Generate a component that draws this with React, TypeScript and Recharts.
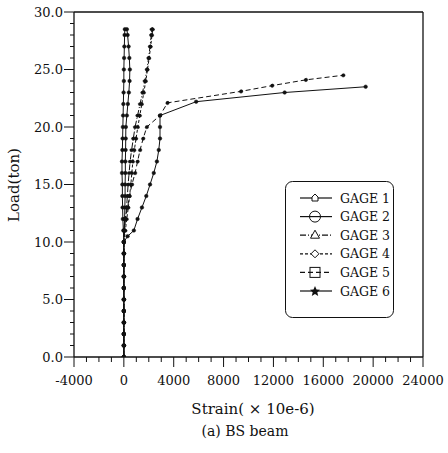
import React from "react";
import {
  Legend,
  Line,
  LineChart,
  ReferenceLine,
  XAxis,
  YAxis,
} from "recharts";

const FONT = "'DejaVu Serif', 'Liberation Serif', serif";
const INK = "#111";

// shared elastic part of every gage: load steps of 1 ton up to 10 ton
const BASE_LOAD = [0, 1, 2, 3, 4, 5, 6, 7, 8, 9, 10];
const BASE_STRAIN = [0, 0, 0, 0, 0, 0, 0, 0, 0, 0, 0];

const GAGE1_LOAD = [11, 12, 13, 14, 15, 16, 17, 18, 19, 20, 21, 22, 23, 24, 25, 26, 27, 28, 28.5];
const GAGE1_STRAIN = [-40, -80, -100, -120, -120, -150, -150, -120, -100, -80, -60, -40, -20, 0, 0, 20, 40, 60, 80];

const GAGE2_LOAD = [11, 12, 13, 14, 15, 16, 17, 18, 19, 20, 21, 22, 23, 24, 25, 26, 27, 28, 28.5];
const GAGE2_STRAIN = [30, 60, 80, 100, 100, 120, 120, 140, 150, 160, 240, 320, 400, 460, 480, 440, 380, 300, 240];

const GAGE3_LOAD = [11, 12, 13, 14, 15, 16, 17, 18, 19, 20, 21, 22, 23, 24, 25, 26, 27, 28, 28.5];
const GAGE3_STRAIN = [60, 130, 220, 280, 340, 420, 500, 620, 760, 900, 1100, 1300, 1500, 1680, 1850, 1980, 2100, 2200, 2240];

const GAGE4_LOAD = [11, 12, 13, 14, 15, 16, 17, 18, 19, 20, 21, 22, 23, 24, 25, 26, 27, 28, 28.5];
const GAGE4_STRAIN = [120, 230, 360, 460, 560, 640, 720, 840, 980, 1120, 1280, 1440, 1600, 1760, 1900, 2030, 2150, 2260, 2320];

const GAGE5_LOAD = [11, 12, 13, 14, 15, 16, 17, 18, 19, 20, 21, 22.1, 23.1, 23.6, 24.1, 24.5];
const GAGE5_STRAIN = [0, 100, 300, 450, 650, 900, 1100, 1300, 1550, 1840, 2900, 3500, 9400, 11900, 14600, 17600];

const GAGE6_LOAD = [10.5, 11, 12, 13, 14, 15, 16, 17, 18, 19, 20, 21, 22.2, 23, 23.5];
const GAGE6_STRAIN = [300, 800, 1100, 1450, 1800, 2100, 2400, 2650, 2800, 2900, 2900, 2900, 5800, 12900, 19400];

const X_MAJOR = [-4000, 0, 4000, 8000, 12000, 16000, 20000, 24000];
const X_TICKS = Array.from({ length: 29 }, (_, i) => -4000 + i * 1000);
const Y_MAJOR = [0, 5, 10, 15, 20, 25, 30];
const Y_TICKS = Array.from({ length: 31 }, (_, i) => i);

type Pt = { strain: number; load: number };

function toPoints(loads: number[], strains: number[]): Pt[] {
  const all = [...BASE_LOAD, ...loads];
  const xs = [...BASE_STRAIN, ...strains];
  return all.map((load, i) => ({ strain: xs[i], load }));
}

type Marker = "pent" | "circle" | "triangle" | "diamond" | "square" | "star";

const SERIES: { name: string; data: Pt[]; dash?: string; marker: Marker }[] = [
  { name: "GAGE 1", data: toPoints(GAGE1_LOAD, GAGE1_STRAIN), marker: "pent" },
  { name: "GAGE 2", data: toPoints(GAGE2_LOAD, GAGE2_STRAIN), marker: "circle" },
  { name: "GAGE 3", data: toPoints(GAGE3_LOAD, GAGE3_STRAIN), dash: "6 2 1 2", marker: "triangle" },
  { name: "GAGE 4", data: toPoints(GAGE4_LOAD, GAGE4_STRAIN), dash: "3 2", marker: "diamond" },
  { name: "GAGE 5", data: toPoints(GAGE5_LOAD, GAGE5_STRAIN), dash: "5 3", marker: "square" },
  { name: "GAGE 6", data: toPoints(GAGE6_LOAD, GAGE6_STRAIN), marker: "star" },
];

function XTick(props: any) {
  const { x, y, payload } = props;
  const v = payload.value as number;
  const major = X_MAJOR.includes(v);
  return (
    <g>
      <line x1={x} y1={y} x2={x} y2={y + (major ? 10 : 5)} stroke={INK} strokeWidth={1} />
      {major && (
        <text x={x} y={y + 28} textAnchor="middle" fontFamily={FONT} fontSize={13} fill={INK}>
          {v}
        </text>
      )}
    </g>
  );
}

function YTick(props: any) {
  const { x, y, payload } = props;
  const v = payload.value as number;
  const major = Y_MAJOR.includes(v);
  return (
    <g>
      <line x1={x} y1={y} x2={x - (major ? 10 : 4)} y2={y} stroke={INK} strokeWidth={1} />
      {major && (
        <text x={x - 11} y={y + 4.5} textAnchor="end" fontFamily={FONT} fontSize={13} fill={INK}>
          {v.toFixed(1)}
        </text>
      )}
    </g>
  );
}

function MarkerShape({ kind, cx, cy }: { kind: Marker; cx: number; cy: number }) {
  const s = { fill: "#fff", stroke: INK, strokeWidth: 1 };
  switch (kind) {
    case "pent":
      return <path d={`M${cx - 3},${cy + 3} L${cx - 3},${cy - 1} L${cx},${cy - 4} L${cx + 3},${cy - 1} L${cx + 3},${cy + 3} Z`} {...s} />;
    case "circle":
      return <circle cx={cx} cy={cy} r={5.5} {...s} fill="none" />;
    case "triangle":
      return <path d={`M${cx},${cy - 5} L${cx + 4.5},${cy + 3} L${cx - 4.5},${cy + 3} Z`} {...s} />;
    case "diamond":
      return <path d={`M${cx},${cy - 4} L${cx + 4},${cy} L${cx},${cy + 4} L${cx - 4},${cy} Z`} {...s} />;
    case "square":
      return <rect x={cx - 5} y={cy - 5} width={10} height={10} {...s} fill="none" />;
    default:
      return (
        <path
          d={`M${cx},${cy - 5} L${cx + 1.5},${cy - 1.5} L${cx + 5},${cy - 1.2} L${cx + 2.3},${cy + 1.2} L${cx + 3.2},${cy + 5} L${cx},${cy + 3} L${cx - 3.2},${cy + 5} L${cx - 2.3},${cy + 1.2} L${cx - 5},${cy - 1.2} L${cx - 1.5},${cy - 1.5} Z`}
          fill={INK}
        />
      );
  }
}

function GageLegend() {
  return (
    <svg width={110} height={138} style={{ display: "block" }}>
      <rect x={0.5} y={0.5} width={108} height={136} rx={7} ry={7} fill="#fff" stroke={INK} strokeWidth={1} />
      {SERIES.map((s, i) => {
        const cy = 17 + i * 18.6;
        return (
          <g key={s.name}>
            <line x1={15} y1={cy} x2={47} y2={cy} stroke={INK} strokeWidth={1.2} strokeDasharray={s.dash} />
            <MarkerShape kind={s.marker} cx={30} cy={cy} />
            <text x={55} y={cy + 4.5} fontFamily={FONT} fontSize={12.5} fill={INK}>
              {s.name}
            </text>
          </g>
        );
      })}
    </svg>
  );
}

export default function App() {
  return (
    <div style={{ position: "absolute", left: 0, top: 0, width: 448, height: 453, background: "#fff" }}>
      <LineChart width={448} height={453} margin={{ top: 12, right: 25, left: 0, bottom: 0 }}>
        <XAxis
          type="number"
          dataKey="strain"
          domain={[-4000, 24000]}
          ticks={X_TICKS}
          interval={0}
          allowDataOverflow
          height={96}
          tickSize={0}
          tickMargin={0}
          tickLine={false}
          axisLine={{ stroke: INK, strokeWidth: 1.3 }}
          tick={<XTick />}
          label={{
            content: () => (
              <text x={253} y={414} textAnchor="middle" fontFamily={FONT} fontSize={15} fill={INK}>
                Strain( × 10e-6)
              </text>
            ),
          }}
        />
        <YAxis
          type="number"
          dataKey="load"
          domain={[0, 30]}
          ticks={Y_TICKS}
          interval={0}
          allowDataOverflow
          width={74}
          tickSize={0}
          tickMargin={0}
          tickLine={false}
          axisLine={{ stroke: INK, strokeWidth: 1.3 }}
          tick={<YTick />}
          label={{
            content: () => (
              <text
                x={19}
                y={185}
                transform="rotate(-90 19 185)"
                textAnchor="middle"
                fontFamily={FONT}
                fontSize={15}
                fill={INK}
              >
                Load(ton)
              </text>
            ),
          }}
        />
        <ReferenceLine y={30} stroke={INK} strokeWidth={1.3} />
        <ReferenceLine x={24000} stroke={INK} strokeWidth={1.3} />
        {SERIES.map((s) => (
          <Line
            key={s.name}
            name={s.name}
            data={s.data}
            dataKey="load"
            type="linear"
            stroke={INK}
            strokeWidth={1}
            strokeDasharray={s.dash}
            dot={{ r: 1.8, fill: INK, stroke: INK, strokeWidth: 0.5 }}
            isAnimationActive={false}
          />
        ))}
        <Legend
          layout="horizontal"
          verticalAlign="middle"
          align="center"
          content={() => <GageLegend />}
          wrapperStyle={{ left: 285, top: 181, width: 110, height: 138 }}
        />
      </LineChart>
      <div
        style={{
          position: "absolute",
          left: 0,
          width: 490,
          top: 423,
          textAlign: "center",
          fontFamily: FONT,
          fontSize: 14,
          color: INK,
        }}
      >
        (a) BS beam
      </div>
    </div>
  );
}
